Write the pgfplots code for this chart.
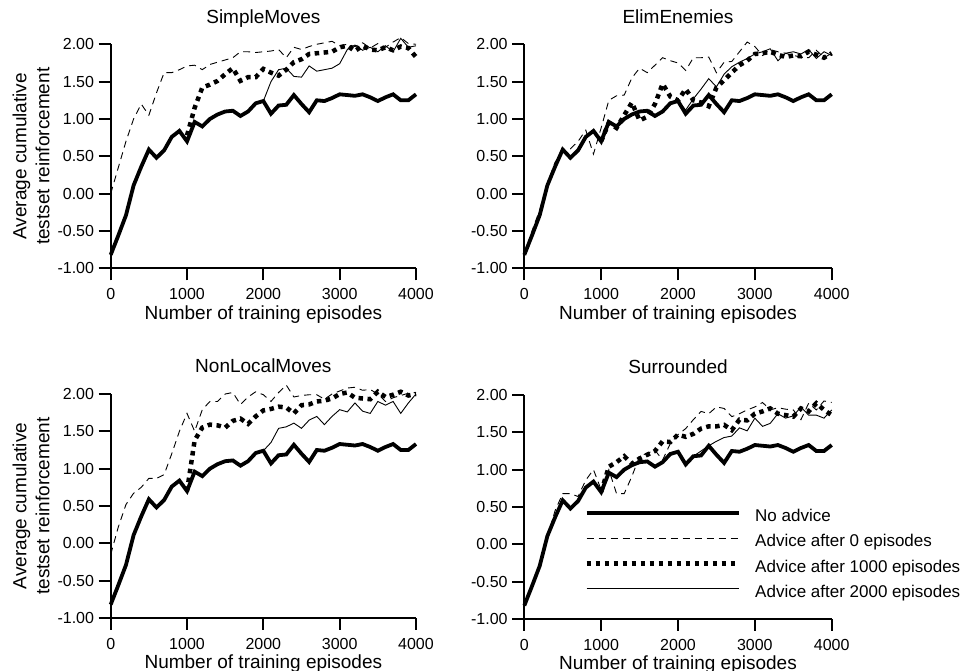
\documentclass[border=0pt]{standalone}
\usepackage{fontspec}
\setmainfont{Liberation Sans}
\usepackage{pgfplots}
\usepackage{pgfplotstable}
\pgfplotsset{compat=1.18}

\newcommand{\tickfont}{\fontsize{16}{18}\selectfont}
\newcommand{\labfont}{\fontsize{19}{23}\selectfont}
\newcommand{\legfont}{\fontsize{17}{20}\selectfont}

% columns: episodes, no advice, advice after 0 / 1000 / 2000 episodes
\pgfplotstableread{
x     noadv  a0    a1    a2
0     -0.82  0.00  nan   nan
100   -0.56  0.35  nan   nan
200   -0.29  0.70  nan   nan
300    0.11  1.00  nan   nan
400    0.36  1.20  nan   nan
500    0.59  1.05  nan   nan
600    0.48  1.35  nan   nan
700    0.58  1.62  nan   nan
800    0.76  1.62  nan   nan
900    0.84  1.66  nan   nan
1000   0.70  1.71  0.78  nan
1100   0.96  1.72  1.15  nan
1200   0.90  1.66  1.42  nan
1300   1.00  1.73  1.46  nan
1400   1.06  1.76  1.51  nan
1500   1.10  1.79  1.60  nan
1600   1.11  1.82  1.68  nan
1700   1.04  1.90  1.51  nan
1800   1.10  1.90  1.56  nan
1900   1.21  1.89  1.56  nan
2000   1.24  1.90  1.67  1.24
2100   1.07  1.91  1.62  1.50
2200   1.18  1.93  1.58  1.66
2300   1.19  1.82  1.66  1.68
2400   1.32  1.96  1.76  1.57
2500   1.20  1.93  1.80  1.56
2600   1.09  1.97  1.87  1.71
2700   1.25  2.00  1.88  1.64
2800   1.24  2.02  1.89  1.66
2900   1.28  2.04  1.90  1.68
3000   1.33  1.98  1.96  1.74
3100   1.32  2.00  1.98  1.93
3200   1.31  1.97  1.91  1.99
3300   1.33  2.02  1.98  1.92
3400   1.29  1.95  1.93  1.96
3500   1.24  2.01  1.92  1.90
3600   1.29  1.96  1.96  1.98
3700   1.33  2.03  1.92  1.90
3800   1.25  2.09  1.97  2.08
3900   1.25  2.01  1.95  1.96
4000   1.33  2.00  1.83  1.98
}\simplemoves

\pgfplotstableread{
x     noadv  a0    a1    a2
0     -0.82 -0.84  nan   nan
100   -0.56 -0.50  nan   nan
200   -0.29 -0.22  nan   nan
300    0.11  0.13  nan   nan
400    0.36  0.42  nan   nan
500    0.59  0.56  nan   nan
600    0.48  0.60  nan   nan
700    0.58  0.70  nan   nan
800    0.76  0.85  nan   nan
900    0.84  0.53  nan   nan
1000   0.70  0.88  0.70  nan
1100   0.96  1.25  0.95  nan
1200   0.90  1.31  0.88  nan
1300   1.00  1.32  1.05  nan
1400   1.06  1.55  1.22  nan
1500   1.10  1.68  0.98  nan
1600   1.11  1.62  1.03  nan
1700   1.04  1.72  1.20  nan
1800   1.10  1.82  1.47  nan
1900   1.21  1.78  1.30  nan
2000   1.24  1.75  1.25  1.24
2100   1.07  1.65  1.40  1.12
2200   1.18  1.82  1.25  1.27
2300   1.19  1.82  1.22  1.40
2400   1.32  1.83  1.17  1.54
2500   1.20  1.62  1.42  1.43
2600   1.09  1.76  1.52  1.60
2700   1.25  1.77  1.62  1.70
2800   1.24  1.90  1.72  1.76
2900   1.28  2.03  1.78  1.81
3000   1.33  1.97  1.87  1.87
3100   1.32  1.85  1.88  1.90
3200   1.31  1.93  1.90  1.94
3300   1.33  1.90  1.86  1.78
3400   1.29  1.88  1.83  1.88
3500   1.24  1.85  1.85  1.90
3600   1.29  1.83  1.84  1.87
3700   1.33  1.82  1.90  1.93
3800   1.25  1.92  1.86  1.81
3900   1.25  1.82  1.82  1.90
4000   1.33  1.88  1.88  1.85
}\elimenemies

\pgfplotstableread{
x     noadv  a0    a1    a2
0     -0.82 -0.15  nan   nan
100   -0.56  0.22  nan   nan
200   -0.29  0.52  nan   nan
300    0.11  0.67  nan   nan
400    0.36  0.75  nan   nan
500    0.59  0.87  nan   nan
600    0.48  0.87  nan   nan
700    0.58  0.92  nan   nan
800    0.76  1.20  nan   nan
900    0.84  1.50  nan   nan
1000   0.70  1.74  0.70  nan
1100   0.96  1.50  1.38  nan
1200   0.90  1.79  1.55  nan
1300   1.00  1.90  1.59  nan
1400   1.06  1.90  1.58  nan
1500   1.10  2.00  1.55  nan
1600   1.11  2.02  1.64  nan
1700   1.04  1.86  1.67  nan
1800   1.10  1.96  1.60  nan
1900   1.21  2.03  1.70  nan
2000   1.24  1.99  1.78  1.24
2100   1.07  1.90  1.80  1.35
2200   1.18  2.02  1.83  1.54
2300   1.19  2.12  1.82  1.56
2400   1.32  1.96  1.74  1.61
2500   1.20  1.98  1.85  1.54
2600   1.09  1.99  1.86  1.65
2700   1.25  1.99  1.90  1.70
2800   1.24  1.93  1.91  1.59
2900   1.28  2.00  1.94  1.70
3000   1.33  2.04  2.00  1.79
3100   1.32  2.08  2.02  1.76
3200   1.31  2.09  1.95  1.88
3300   1.33  2.05  1.94  1.77
3400   1.29  2.06  1.93  1.74
3500   1.24  2.00  2.03  1.90
3600   1.29  1.90  1.96  1.85
3700   1.33  1.95  1.99  1.90
3800   1.25  1.98  2.03  1.74
3900   1.25  2.01  1.98  1.88
4000   1.33  2.02  2.00  2.00
}\nonlocalmoves

\pgfplotstableread{
x     noadv  a0    a1    a2
0     -0.82 -0.84  nan   nan
100   -0.56 -0.55  nan   nan
200   -0.29 -0.30  nan   nan
300    0.11  0.10  nan   nan
400    0.36  0.45  nan   nan
500    0.59  0.68  nan   nan
600    0.48  0.68  nan   nan
700    0.58  0.64  nan   nan
800    0.76  0.86  nan   nan
900    0.84  1.00  nan   nan
1000   0.70  0.73  0.70  nan
1100   0.96  1.00  1.04  nan
1200   0.90  0.68  1.10  nan
1300   1.00  0.68  1.18  nan
1400   1.06  0.91  1.08  nan
1500   1.10  1.18  1.15  nan
1600   1.11  1.22  1.20  nan
1700   1.04  1.26  1.25  nan
1800   1.10  1.13  1.38  nan
1900   1.21  1.35  1.37  nan
2000   1.24  1.47  1.47  1.24
2100   1.07  1.55  1.44  1.10
2200   1.18  1.67  1.48  1.18
2300   1.19  1.78  1.55  1.25
2400   1.32  1.75  1.58  1.32
2500   1.20  1.84  1.58  1.38
2600   1.09  1.82  1.60  1.43
2700   1.25  1.71  1.53  1.45
2800   1.24  1.75  1.67  1.56
2900   1.28  1.80  1.66  1.52
3000   1.33  1.84  1.75  1.69
3100   1.32  1.90  1.78  1.58
3200   1.31  1.80  1.82  1.62
3300   1.33  1.83  1.75  1.75
3400   1.29  1.81  1.73  1.69
3500   1.24  1.80  1.71  1.72
3600   1.29  1.67  1.82  1.84
3700   1.33  1.89  1.78  1.73
3800   1.25  1.80  1.89  1.73
3900   1.25  1.92  1.80  1.69
4000   1.33  1.90  1.73  1.80
}\surrounded

\tikzset{
  noadv/.style={black, line width=3.8pt},
  adv0/.style={black, line width=0.9pt, dash pattern=on 7pt off 5pt},
  adv1000/.style={black, line width=4.5pt, dash pattern=on 4.5pt off 4.5pt},
  adv2000/.style={black, line width=0.9pt},
}

\pgfplotsset{
  panel/.style={
    scale only axis, height=224pt,
    xmin=0, xmax=4000, ymin=-1, ymax=2,
    axis lines=left,
    axis line style={-, line width=2pt},
    clip=false,
    xtick={0,1000,2000,3000,4000},
    ytick={-1,-0.5,0,0.5,1,1.5,2},
    tick align=outside, major tick length=12pt,
    tick style={black, line width=2pt},
    scaled ticks=false,
    /pgf/number format/assume math mode=true,
    tick label style={font=\tickfont},
    xticklabel style={/pgf/number format/1000 sep={}, anchor=base, yshift=-19.7pt},
    yticklabel style={/pgf/number format/fixed, /pgf/number format/fixed zerofill,
      /pgf/number format/precision=2, anchor=east, inner xsep=4.5pt},
    title style={font=\labfont, at={(0.5,1)}, anchor=base, yshift=15pt},
    xlabel={Number of training episodes},
    xlabel style={font=\labfont, at={(axis description cs:0.5,0)}, anchor=base, yshift=-51pt},
    ylabel style={font=\labfont, align=center, at={(axis description cs:-0.261,0.5)},
      anchor=center},
  },
}

\newcommand{\curves}[1]{%
  \addplot[noadv] table[x=x, y=noadv] {#1};
  \addplot[adv0] table[x=x, y=a0] {#1};
  \addplot[adv1000] table[x=x, y=a1] {#1};
  \addplot[adv2000] table[x=x, y=a2] {#1};
}

\begin{document}
\begin{tikzpicture}[x=1pt, y=1pt]
\useasboundingbox (0,0) rectangle (961,671);

\begin{axis}[panel, width=305.3pt, at={(110.7pt,402.7pt)}, anchor=south west,
    title={SimpleMoves}, ylabel={Average cumulative\\testset reinforcement}]
\curves{\simplemoves}
\end{axis}

\begin{axis}[panel, width=307.4pt, at={(524.3pt,402.7pt)}, anchor=south west,
    title={ElimEnemies}]
\curves{\elimenemies}
\end{axis}

\begin{axis}[panel, width=305.3pt, at={(110.7pt,53pt)}, anchor=south west,
    title={NonLocalMoves}, ylabel={Average cumulative\\testset reinforcement}]
\curves{\nonlocalmoves}
\end{axis}

\begin{axis}[panel, width=307.4pt, at={(524.3pt,52pt)}, anchor=south west,
    title={Surrounded}]
\curves{\surrounded}
\end{axis}

% legend
\draw[noadv]   (586.7,158.3) -- (739.3,158.3);
\draw[adv0]    (586.7,133.0) -- (739.3,133.0);
\draw[adv1000] (586.7,107.3) -- (739.3,107.3);
\draw[adv2000] (586.7,82.3)  -- (739.3,82.3);
\node[anchor=base west, inner sep=0pt, font=\legfont] at (755,149.3) {No advice};
\node[anchor=base west, inner sep=0pt, font=\legfont] at (755,124.0) {Advice after 0 episodes};
\node[anchor=base west, inner sep=0pt, font=\legfont] at (755,98.3) {Advice after 1000 episodes};
\node[anchor=base west, inner sep=0pt, font=\legfont] at (755,73.3) {Advice after 2000 episodes};
\end{tikzpicture}
\end{document}
